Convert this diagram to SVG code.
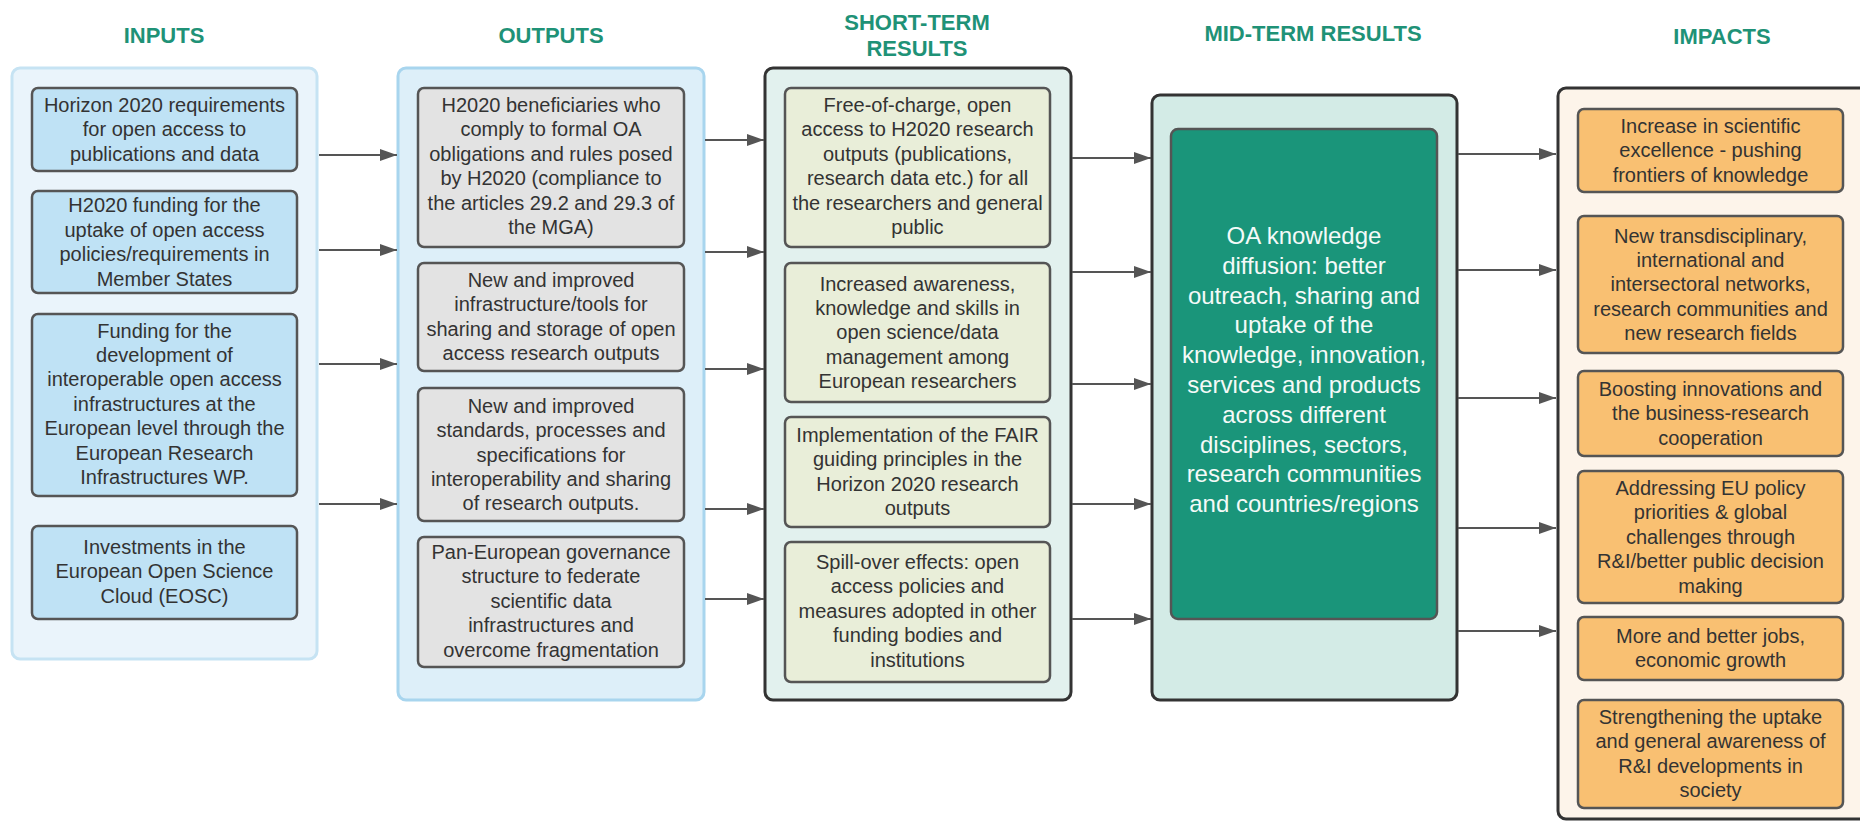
<svg xmlns="http://www.w3.org/2000/svg" width="1860" height="821" viewBox="0 0 1860 821">
<style>
.title{font-family:"Liberation Sans",Arial,sans-serif;font-weight:bold;font-size:22px;fill:#1f9277;text-anchor:middle}
.t{font-family:"Liberation Sans",Arial,sans-serif;font-size:20px;fill:#333;text-anchor:middle}
.tw{font-family:"Liberation Sans",Arial,sans-serif;font-size:24px;fill:#f4faf8;text-anchor:middle}
.cont{stroke-width:3}
.box{stroke:#555;stroke-width:2.5}
.in{fill:#bfe2f5}
.out{fill:#e3e3e3}
.st{fill:#e9eed9}
.imp{fill:#f9c072}
.conn line{stroke:#555;stroke-width:2;marker-end:url(#ah)}
</style>
<defs>
<marker id="ah" viewBox="0 0 17 12" markerWidth="17" markerHeight="12" refX="17" refY="6" markerUnits="userSpaceOnUse" orient="auto">
<path d="M0,0 L17,6 L0,12 z" fill="#555"/>
</marker>
</defs>
<rect width="1860" height="821" fill="#fff"/>

<g id="titles">
<text class="title" x="164" y="43">INPUTS</text>
<text class="title" x="551" y="43">OUTPUTS</text>
<text class="title" x="917" y="30">SHORT-TERM</text>
<text class="title" x="917" y="56">RESULTS</text>
<text class="title" x="1313" y="41">MID-TERM RESULTS</text>
<text class="title" x="1722" y="44">IMPACTS</text>
</g>

<g id="containers">
<rect id="inputs-panel" class="cont" x="12" y="68" width="305" height="591" rx="8" fill="#eaf4fb" stroke="#c6e3f3"/>
<rect id="outputs-panel" class="cont" x="398" y="68" width="306" height="632" rx="8" fill="#ddeff9" stroke="#a8d5ee"/>
<rect id="short-panel" class="cont" x="765" y="68" width="306" height="632" rx="8" fill="#e2f1ee" stroke="#333"/>
<rect id="mid-panel" class="cont" x="1152" y="95" width="305" height="605" rx="8" fill="#d3ebe6" stroke="#333"/>
<rect id="impacts-panel" class="cont" x="1558" y="88" width="312" height="731" rx="8" fill="#fdf4ea" stroke="#333"/>
</g>

<g id="in1"><rect class="box in" x="32" y="88" width="265" height="83" rx="6"/>
<text class="t" x="164.5" y="112"><tspan x="164.5">Horizon 2020 requirements</tspan><tspan x="164.5" dy="24.4">for open access to</tspan><tspan x="164.5" dy="24.4">publications and data</tspan></text></g>
<g id="in2"><rect class="box in" x="32" y="191" width="265" height="102" rx="6"/>
<text class="t" x="164.5" y="212.4"><tspan x="164.5">H2020 funding for the</tspan><tspan x="164.5" dy="24.4">uptake of open access</tspan><tspan x="164.5" dy="24.4">policies/requirements in</tspan><tspan x="164.5" dy="24.4">Member States</tspan></text></g>
<g id="in3"><rect class="box in" x="32" y="314" width="265" height="182" rx="6"/>
<text class="t" x="164.5" y="337.5"><tspan x="164.5">Funding for the</tspan><tspan x="164.5" dy="24.4">development of</tspan><tspan x="164.5" dy="24.4">interoperable open access</tspan><tspan x="164.5" dy="24.4">infrastructures at the</tspan><tspan x="164.5" dy="24.4">European level through the</tspan><tspan x="164.5" dy="24.4">European Research</tspan><tspan x="164.5" dy="24.4">Infrastructures WP.</tspan></text></g>
<g id="in4"><rect class="box in" x="32" y="526" width="265" height="93" rx="6"/>
<text class="t" x="164.5" y="554"><tspan x="164.5">Investments in the</tspan><tspan x="164.5" dy="24.4">European Open Science</tspan><tspan x="164.5" dy="24.4">Cloud (EOSC)</tspan></text></g>

<g id="out1"><rect class="box out" x="418" y="88" width="266" height="159" rx="6"/>
<text class="t" x="551" y="112"><tspan x="551">H2020 beneficiaries who</tspan><tspan x="551" dy="24.4">comply to formal OA</tspan><tspan x="551" dy="24.4">obligations and rules posed</tspan><tspan x="551" dy="24.4">by H2020 (compliance to</tspan><tspan x="551" dy="24.4">the articles 29.2 and 29.3 of</tspan><tspan x="551" dy="24.4">the MGA)</tspan></text></g>
<g id="out2"><rect class="box out" x="418" y="263" width="266" height="108" rx="6"/>
<text class="t" x="551" y="287"><tspan x="551">New and improved</tspan><tspan x="551" dy="24.4">infrastructure/tools for</tspan><tspan x="551" dy="24.4">sharing and storage of open</tspan><tspan x="551" dy="24.4">access research outputs</tspan></text></g>
<g id="out3"><rect class="box out" x="418" y="388" width="266" height="133" rx="6"/>
<text class="t" x="551" y="412.7"><tspan x="551">New and improved</tspan><tspan x="551" dy="24.4">standards, processes and</tspan><tspan x="551" dy="24.4">specifications for</tspan><tspan x="551" dy="24.4">interoperability and sharing</tspan><tspan x="551" dy="24.4">of research outputs.</tspan></text></g>
<g id="out4"><rect class="box out" x="418" y="537" width="266" height="130" rx="6"/>
<text class="t" x="551" y="559"><tspan x="551">Pan-European governance</tspan><tspan x="551" dy="24.4">structure to federate</tspan><tspan x="551" dy="24.4">scientific data</tspan><tspan x="551" dy="24.4">infrastructures and</tspan><tspan x="551" dy="24.4">overcome fragmentation</tspan></text></g>

<g id="st1"><rect class="box st" x="785" y="88" width="265" height="159" rx="6"/>
<text class="t" x="917.5" y="112"><tspan x="917.5">Free-of-charge, open</tspan><tspan x="917.5" dy="24.4">access to H2020 research</tspan><tspan x="917.5" dy="24.4">outputs (publications,</tspan><tspan x="917.5" dy="24.4">research data etc.) for all</tspan><tspan x="917.5" dy="24.4">the researchers and general</tspan><tspan x="917.5" dy="24.4">public</tspan></text></g>
<g id="st2"><rect class="box st" x="785" y="263" width="265" height="139" rx="6"/>
<text class="t" x="917.5" y="290.5"><tspan x="917.5">Increased awareness,</tspan><tspan x="917.5" dy="24.4">knowledge and skills in</tspan><tspan x="917.5" dy="24.4">open science/data</tspan><tspan x="917.5" dy="24.4">management among</tspan><tspan x="917.5" dy="24.4">European researchers</tspan></text></g>
<g id="st3"><rect class="box st" x="785" y="417" width="265" height="110" rx="6"/>
<text class="t" x="917.5" y="442"><tspan x="917.5">Implementation of the FAIR</tspan><tspan x="917.5" dy="24.4">guiding principles in the</tspan><tspan x="917.5" dy="24.4">Horizon 2020 research</tspan><tspan x="917.5" dy="24.4">outputs</tspan></text></g>
<g id="st4"><rect class="box st" x="785" y="542" width="265" height="140" rx="6"/>
<text class="t" x="917.5" y="569"><tspan x="917.5">Spill-over effects: open</tspan><tspan x="917.5" dy="24.4">access policies and</tspan><tspan x="917.5" dy="24.4">measures adopted in other</tspan><tspan x="917.5" dy="24.4">funding bodies and</tspan><tspan x="917.5" dy="24.4">institutions</tspan></text></g>

<g id="mid1"><rect x="1171" y="129" width="266" height="490" rx="7" fill="#1a957a" stroke="#555" stroke-width="2.5"/>
<text class="tw" x="1304" y="244"><tspan x="1304">OA knowledge</tspan><tspan x="1304" dy="29.8">diffusion: better</tspan><tspan x="1304" dy="29.8">outreach, sharing and</tspan><tspan x="1304" dy="29.8">uptake of the</tspan><tspan x="1304" dy="29.8">knowledge, innovation,</tspan><tspan x="1304" dy="29.8">services and products</tspan><tspan x="1304" dy="29.8">across different</tspan><tspan x="1304" dy="29.8">disciplines, sectors,</tspan><tspan x="1304" dy="29.8">research communities</tspan><tspan x="1304" dy="29.8">and countries/regions</tspan></text></g>

<g id="imp1"><rect class="box imp" x="1578" y="109" width="265" height="83" rx="6"/>
<text class="t" x="1710.5" y="133"><tspan x="1710.5">Increase in scientific</tspan><tspan x="1710.5" dy="24.4">excellence - pushing</tspan><tspan x="1710.5" dy="24.4">frontiers of knowledge</tspan></text></g>
<g id="imp2"><rect class="box imp" x="1578" y="216" width="265" height="137" rx="6"/>
<text class="t" x="1710.5" y="242.5"><tspan x="1710.5">New transdisciplinary,</tspan><tspan x="1710.5" dy="24.4">international and</tspan><tspan x="1710.5" dy="24.4">intersectoral networks,</tspan><tspan x="1710.5" dy="24.4">research communities and</tspan><tspan x="1710.5" dy="24.4">new research fields</tspan></text></g>
<g id="imp3"><rect class="box imp" x="1578" y="371" width="265" height="85" rx="6"/>
<text class="t" x="1710.5" y="396"><tspan x="1710.5">Boosting innovations and</tspan><tspan x="1710.5" dy="24.4">the business-research</tspan><tspan x="1710.5" dy="24.4">cooperation</tspan></text></g>
<g id="imp4"><rect class="box imp" x="1578" y="471" width="265" height="132" rx="6"/>
<text class="t" x="1710.5" y="495"><tspan x="1710.5">Addressing EU policy</tspan><tspan x="1710.5" dy="24.4">priorities &amp; global</tspan><tspan x="1710.5" dy="24.4">challenges through</tspan><tspan x="1710.5" dy="24.4">R&amp;I/better public decision</tspan><tspan x="1710.5" dy="24.4">making</tspan></text></g>
<g id="imp5"><rect class="box imp" x="1578" y="617" width="265" height="63" rx="6"/>
<text class="t" x="1710.5" y="643"><tspan x="1710.5">More and better jobs,</tspan><tspan x="1710.5" dy="24.4">economic growth</tspan></text></g>
<g id="imp6"><rect class="box imp" x="1578" y="700" width="265" height="108" rx="6"/>
<text class="t" x="1710.5" y="724"><tspan x="1710.5">Strengthening the uptake</tspan><tspan x="1710.5" dy="24.4">and general awareness of</tspan><tspan x="1710.5" dy="24.4">R&amp;I developments in</tspan><tspan x="1710.5" dy="24.4">society</tspan></text></g>

<g id="connectors" class="conn">
<line x1="319" y1="155" x2="397" y2="155"/>
<line x1="319" y1="250" x2="397" y2="250"/>
<line x1="319" y1="364" x2="397" y2="364"/>
<line x1="319" y1="504" x2="397" y2="504"/>
<line x1="705" y1="140" x2="764" y2="140"/>
<line x1="705" y1="252" x2="764" y2="252"/>
<line x1="705" y1="369" x2="764" y2="369"/>
<line x1="705" y1="509" x2="764" y2="509"/>
<line x1="705" y1="599" x2="764" y2="599"/>
<line x1="1072" y1="158" x2="1151" y2="158"/>
<line x1="1072" y1="272" x2="1151" y2="272"/>
<line x1="1072" y1="384" x2="1151" y2="384"/>
<line x1="1072" y1="504" x2="1151" y2="504"/>
<line x1="1072" y1="619" x2="1151" y2="619"/>
<line x1="1458" y1="154" x2="1556" y2="154"/>
<line x1="1458" y1="270" x2="1556" y2="270"/>
<line x1="1458" y1="398" x2="1556" y2="398"/>
<line x1="1458" y1="528" x2="1556" y2="528"/>
<line x1="1458" y1="631" x2="1556" y2="631"/>
</g>
</svg>
